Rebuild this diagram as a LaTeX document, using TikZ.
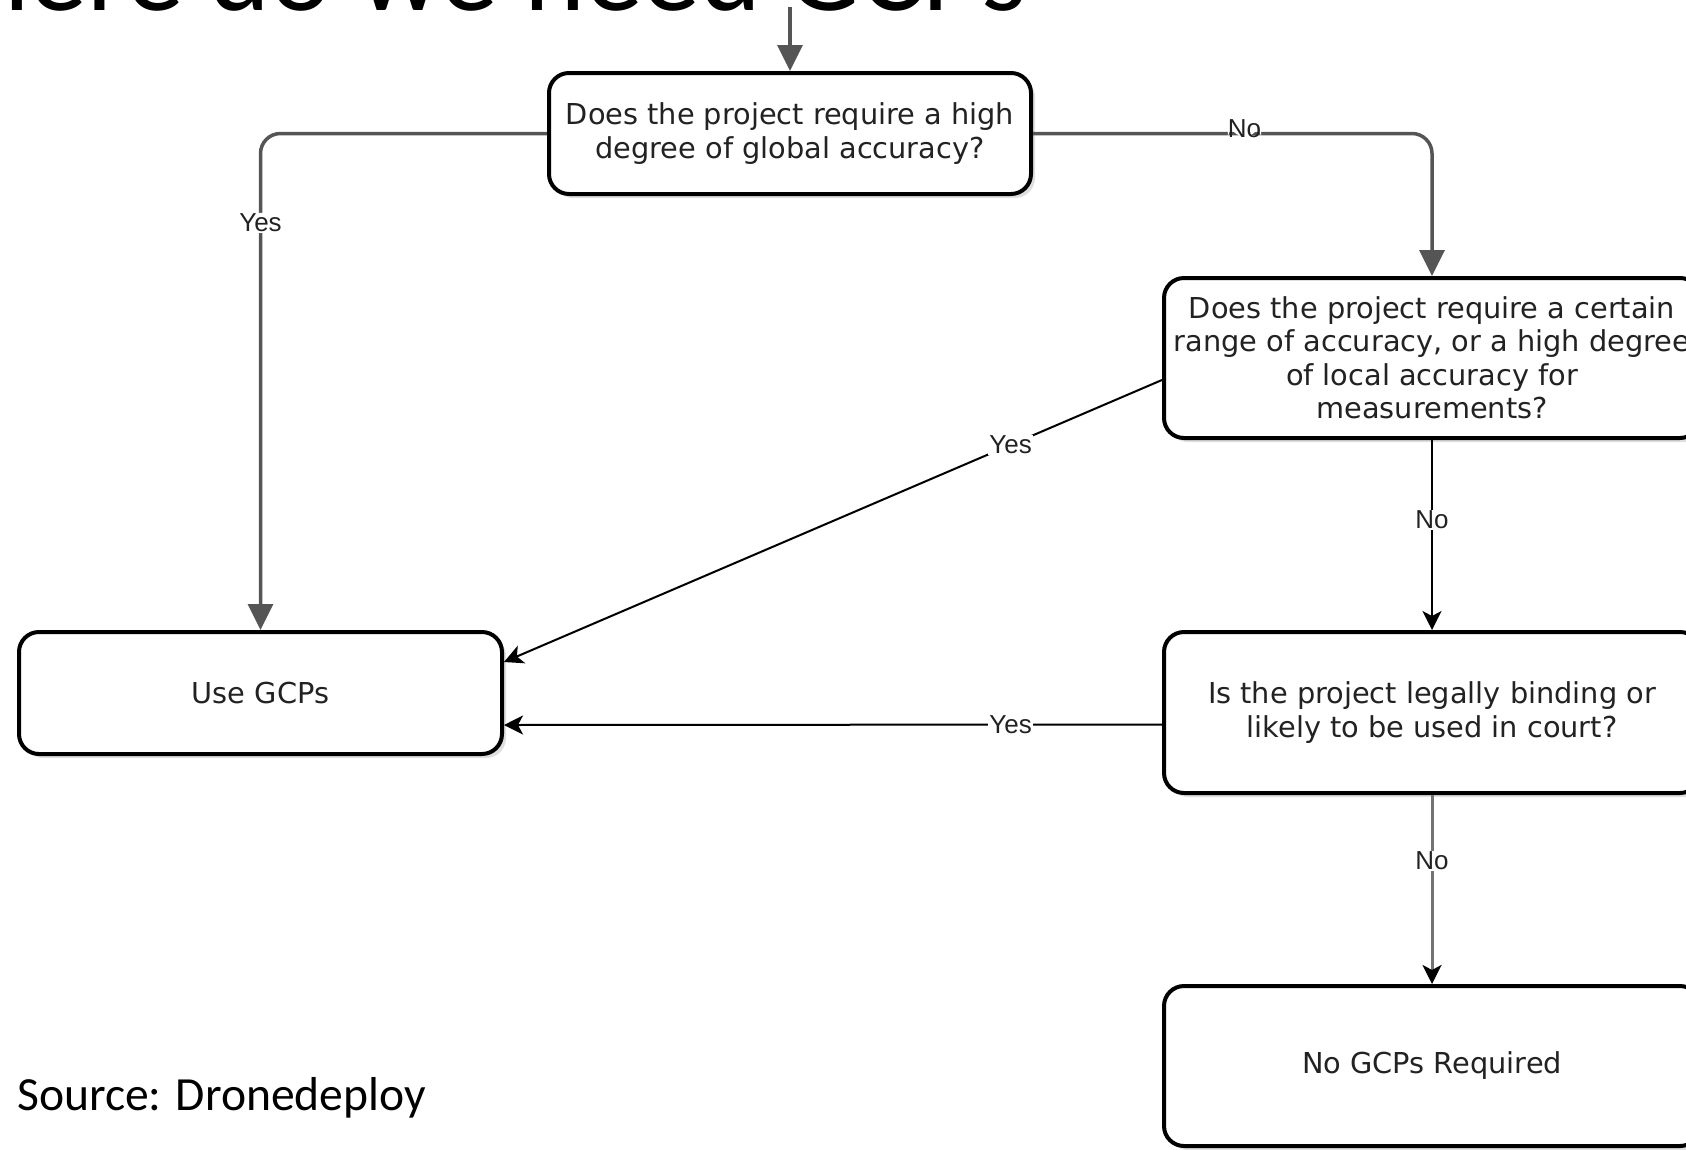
\documentclass[tikz,border=0pt]{standalone}
\usepackage{fontspec}
\usepackage{xcolor}
\usepackage{tikz}
\usetikzlibrary{arrows.meta,shadows}
\newfontfamily\boxfont{DejaVu Sans}
\newfontfamily\lblfont{Liberation Sans}
\newfontfamily\slidefont{Carlito}
\definecolor{edgegray}{HTML}{555555}
\definecolor{txtgray}{HTML}{222222}

\begin{document}
\begin{tikzpicture}[x=1pt,y=-1pt,
  qbox/.style={draw=black,line width=4pt,rounded corners=20pt,fill=white,
    align=center,text=txtgray,inner sep=0pt,
    font=\boxfont\fontsize{28.8}{33.5}\selectfont,
    drop shadow={shadow xshift=4pt,shadow yshift=-4pt,fill=black!25}},
  greyflow/.style={draw=edgegray,line width=3.5pt,rounded corners=20pt,
    -{Triangle[length=26pt,width=25pt]}},
  thinflow/.style={draw=black,line width=2pt,
    -{Stealth[length=19pt,width=19pt,inset=5pt]}},
  lbl/.style={fill=white,inner sep=1pt,text=txtgray,
    font=\lblfont\fontsize{26}{28}\selectfont}]
  \useasboundingbox (0,0) rectangle (1686,1149);

  % slide title, only its lower edge is on the page
  \node[anchor=base west,inner sep=0pt,
    font=\slidefont\fontsize{116}{120}\selectfont] (title) at (-135,10)
    {Where do we need GCPs};

  % question and answer boxes
  \node[qbox,minimum width=482pt,minimum height=121pt] (qglobal) at (790,133.5)
    {Does the project require a high\\degree of global accuracy?};
  \node[qbox,minimum width=536pt,minimum height=160pt] (qrange) at (1432,358)
    {Does the project require a certain\\range of accuracy, or a high degree\\of local accuracy for\\measurements?};
  \node[qbox,minimum width=536pt,minimum height=161pt] (qlegal) at (1432,712.5)
    {Is the project legally binding or\\likely to be used in court?};
  \node[qbox,minimum width=536pt,minimum height=160pt] (nogcp) at (1432,1066)
    {No GCPs Required};
  \node[qbox,minimum width=483pt,minimum height=122pt] (usegcp) at (260.5,693)
    {Use GCPs};

  % connectors
  \coordinate (entry) at (790,7);
  \draw[greyflow] (entry) -- (qglobal);
  \draw[greyflow] (qglobal.west) -| (usegcp.north) node[lbl,pos=0.59] {Yes};
  \draw[greyflow] (qglobal.east) -| (qrange.north)
    node[lbl,pos=0.265,yshift=5pt,inner sep=0pt] {No};
  \draw[thinflow] ([yshift=-22pt]qrange.west) -- ([yshift=31pt]usegcp.east)
    node[lbl,pos=0.23] {Yes};
  \draw[thinflow] (qrange) -- (qlegal) node[lbl,pos=0.42] {No};
  \draw[thinflow] ([yshift=-12pt]qlegal.west) -- ([yshift=-32pt]usegcp.east)
    node[lbl,pos=0.23] {Yes};
  \draw[thinflow,draw=black!55,line width=3pt,
    -{Stealth[length=19pt,width=19pt,inset=5pt,black]}] (qlegal) -- (nogcp)
    node[lbl,pos=0.35] {No};

  % source line
  \node[anchor=base west,inner sep=0pt,
    font=\slidefont\fontsize{47.6}{50}\selectfont] (source) at (17,1110)
    {Source: Dronedeploy};
\end{tikzpicture}
\end{document}
